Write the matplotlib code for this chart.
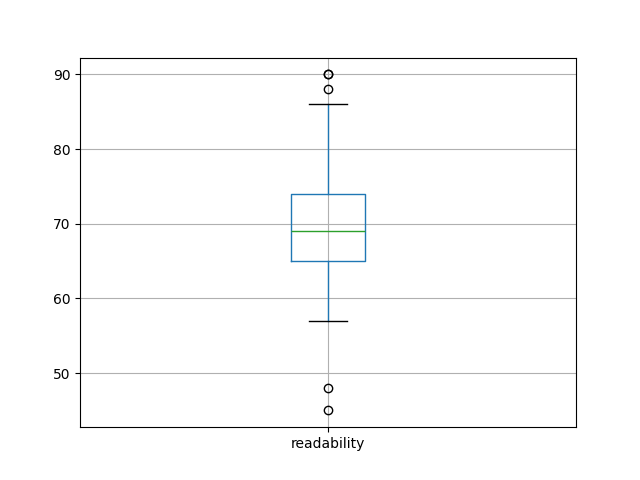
import matplotlib
matplotlib.use("Agg")
import matplotlib.pyplot as plt

# box statistics
labels = ["readability"]
q1 = [65]
med = [69]
q3 = [74]
whislo = [57]
whishi = [86]
fliers = [[90, 90, 88, 48, 45]]

stats = []
for i in range(len(labels)):
    stats.append(dict(label=labels[i], q1=q1[i], med=med[i], q3=q3[i],
                      whislo=whislo[i], whishi=whishi[i], fliers=fliers[i]))

fig, ax = plt.subplots(figsize=(6.4, 4.8), dpi=100)
ax.bxp(stats,
       boxprops=dict(color="C0"),
       whiskerprops=dict(color="C0"),
       medianprops=dict(color="C2"),
       capprops=dict(color="k"),
       flierprops=dict(marker="o", markeredgecolor="k", markerfacecolor="none"))
ax.grid(True)
ax.set_axisbelow(True)

fig.savefig("out.png")
